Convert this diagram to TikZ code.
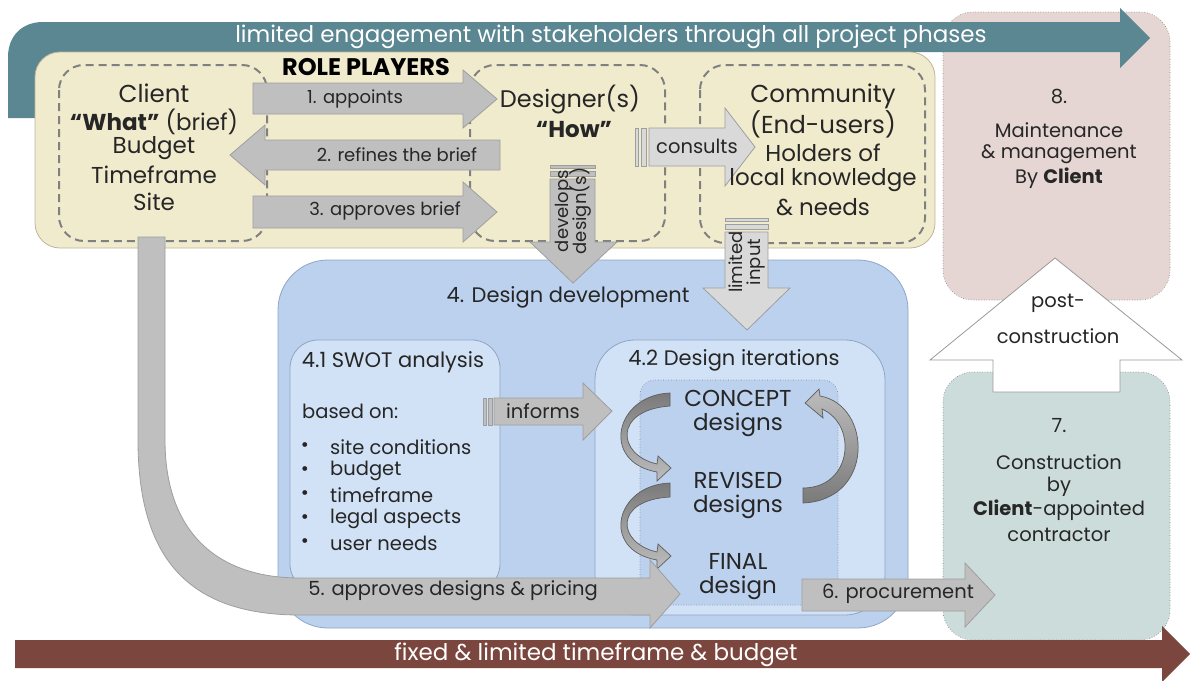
\documentclass[tikz,border=0pt]{standalone}
\usepackage{fontspec}
\setmainfont{Poppins}
\usetikzlibrary{calc}
\definecolor{tealc}{HTML}{5B8792}
\definecolor{brownc}{HTML}{7B463E}
\definecolor{yel}{HTML}{F1EBCD}
\definecolor{yeledge}{HTML}{BDB59A}
\definecolor{dashc}{HTML}{808080}
\definecolor{agray}{HTML}{BFBFBF}
\definecolor{aedge}{HTML}{9E9E9E}
\definecolor{alight}{HTML}{D9D9D9}
\definecolor{blue1}{HTML}{BCD1EE}
\definecolor{blueedge}{HTML}{8EA5C3}
\definecolor{blue2}{HTML}{D2E2F6}
\definecolor{pinkc}{HTML}{E6D6D3}
\definecolor{greenc}{HTML}{CCDCDA}
\definecolor{txt}{HTML}{262626}
\definecolor{curvdark}{HTML}{7A7A7A}
\definecolor{curvlight}{HTML}{BDBDBD}
\definecolor{curvedge}{HTML}{5E5E5E}
\tikzset{
  dbox/.style={draw=dashc, line width=2pt, dash pattern=on 8pt off 5pt, rounded corners=25pt},
  garrow/.style={fill=agray, draw=aedge, line width=0.8pt},
  larrow/.style={fill=alight, draw=aedge, line width=0.8pt},
  carrow/.style={draw=curvedge, line width=0.7pt},
  ttl/.style={font=\fontsize{24.5}{30}\selectfont, text=txt, inner sep=0pt, align=center},
  big/.style={font=\fontsize{23}{28}\selectfont, text=txt, inner sep=0pt, align=center},
  mid/.style={font=\fontsize{21}{25}\selectfont, text=txt, inner sep=0pt, align=center},
  lbl/.style={font=\fontsize{19.5}{23}\selectfont, text=txt, inner sep=0pt, align=center},
  rlbl/.style={font=\fontsize{18}{22}\selectfont, text=txt, inner sep=0pt, align=center},
  wlbl/.style={font=\fontsize{23}{27}\selectfont, text=white, inner sep=0pt},
  hdr/.style={font=\fontsize{24}{28}\selectfont\bfseries, text=black, inner sep=0pt},
}
\begin{document}
\begin{tikzpicture}[x=1pt,y=-1pt]
\useasboundingbox (0,0) rectangle (1199,680);
% right panels
\draw[fill=pinkc, draw=gray, dotted, line width=0.6pt, rounded corners=30pt] (943,12) rectangle (1170,300);
\draw[fill=greenc, draw=gray, dotted, line width=0.6pt, rounded corners=30pt] (943,372) rectangle (1170,640);
\draw[fill=white, draw=gray!80, line width=0.8pt] (993,392) -- (993,360) -- (930,360) -- (1055,258) -- (1182,360) -- (1120,360) -- (1120,392) -- cycle;
% teal arrow
\fill[tealc] (8,118) -- (8,57) .. controls (8,36) and (22,22) .. (43,22) -- (1120,22) -- (1120,8) -- (1150,38) -- (1120,68) -- (1120,52) -- (60,52) -- (60,118) -- cycle;
% yellow panel
\draw[fill=yel, draw=yeledge, line width=0.8pt, rounded corners=25pt] (35,52) rectangle (935,248);
\draw[dbox] (59,65) rectangle (267,241);
\draw[dbox] (470,65) rectangle (665,241);
\draw[dbox] (700,65) rectangle (925,243);
% role arrows
\draw[garrow] (253,83) -- (463,83) -- (463,70) -- (497,99) -- (463,128) -- (463,114) -- (253,114) -- cycle;
\draw[garrow] (500,140) -- (265,140) -- (265,125) -- (230,155) -- (265,185) -- (265,170) -- (500,170) -- cycle;
\draw[garrow] (253,196) -- (463,196) -- (463,182) -- (497,212) -- (463,242) -- (463,228) -- (253,228) -- cycle;
% consults
\draw[larrow] (635,128) rectangle (638,166);
\draw[larrow] (641,128) rectangle (646,166);
\draw[larrow] (649,128) -- (725,128) -- (725,108) -- (755,147) -- (725,186) -- (725,166) -- (649,166) -- cycle;
% blue panels
\draw[fill=blue1, draw=blueedge, line width=0.8pt, rounded corners=50pt] (278,260) rectangle (908,628);
\draw[fill=blue2, draw=blueedge, line width=0.8pt, rounded corners=28pt] (290,340) rectangle (500,592);
\draw[fill=blue2, draw=blueedge, line width=0.8pt, rounded corners=40pt] (595,340) rectangle (885,615);
\draw[fill=blue1, draw=gray, dotted, line width=0.6pt, rounded corners=15pt] (640,380) rectangle (838,605);
% develops
\draw[garrow] (550,165) rectangle (595,168);
\draw[garrow] (550,171) rectangle (595,176);
\draw[garrow] (550,179) -- (595,179) -- (595,242) -- (617,242) -- (573,283) -- (530,242) -- (550,242) -- cycle;
% limited input
\draw[larrow] (725,218) rectangle (768,221);
\draw[larrow] (725,224) rectangle (768,229);
\draw[larrow] (725,232) -- (768,232) -- (768,288) -- (790,288) -- (747,330) -- (703,288) -- (725,288) -- cycle;
% informs
\draw[garrow] (483,398) rectangle (486,425);
\draw[garrow] (488,398) rectangle (492,425);
\draw[garrow] (494,398) -- (583,398) -- (583,383) -- (612,411) -- (583,440) -- (583,425) -- (494,425) -- cycle;
% curved arrows
\draw[carrow, top color=curvdark, bottom color=curvlight] (670,393) .. controls (615,395) and (600,462) .. (657,472) -- (657,481) -- (671,468) -- (658,456) -- (657,464) .. controls (617,455) and (613,410) .. (670,406) -- cycle;
\draw[carrow, top color=curvdark, bottom color=curvlight] (670,483) .. controls (615,485) and (600,550) .. (657,560) -- (657,569) -- (671,556) -- (658,544) -- (657,552) .. controls (617,543) and (613,500) .. (670,497) -- cycle;
\draw[carrow, top color=curvlight, bottom color=curvdark] (803,503) .. controls (875,500) and (872,405) .. (820,396) -- (819,389) -- (805,403) -- (823,418) -- (822,409) .. controls (858,425) and (852,488) .. (803,488) -- cycle;
% 5. approves band
\draw[garrow] (138,237) -- (138,440) .. controls (138,560) and (190,615) .. (300,615) -- (650,615) -- (650,628) -- (680,594) -- (650,560) -- (650,578) -- (300,578) .. controls (215,578) and (165,530) .. (165,440) -- (165,237) -- cycle;
% 6. procurement
\draw[garrow] (802,579) -- (965,579) -- (965,563) -- (995,595) -- (965,627) -- (965,611) -- (802,611) -- cycle;
% brown arrow
\fill[brownc] (15,640) -- (1162,640) -- (1162,626) -- (1190,654) -- (1162,682) -- (1162,668) -- (15,668) -- cycle;

% texts
\node[wlbl] (t1) at (611,37) {limited engagement with stakeholders through all project phases};
\node[wlbl] (t2) at (596,655) {fixed \& limited timeframe \& budget};
\node[hdr] (rp) at (366,67) {ROLE PLAYERS};
\node[ttl] (cl) at (154,93) {Client};
\node[big] (cl2) at (154,122) {\textbf{“What”} (brief)};
\node[big] (cl3) at (154,148) {Budget};
\node[big] (cl4) at (154,175) {Timeframe};
\node[big] (cl5) at (154,202) {Site};
\node[big, font=\fontsize{24}{28}\selectfont] (ds) at (570,100) {Designer(s)};
\node[big] (ds2) at (574,130) {\textbf{“How”}};
\node[ttl] (cm) at (823,96) {Community};
\node[ttl] (cm2) at (823,124) {(End-users)};
\node[big] (cm3) at (823,153) {Holders of};
\node[big] (cm4) at (823,180) {local knowledge};
\node[big] (cm5) at (823,207) {\& needs};
\node[rlbl] (a1) at (355,99) {1. appoints};
\node[rlbl] (a2) at (397,155) {2. refines the brief};
\node[rlbl] (a3) at (385,211) {3. approves brief};
\node[lbl] (a4) at (697,146) {consults};
\node[rlbl, rotate=90] (a5) at (573,211) {develops\\[-4pt]design(s)};
\node[rlbl, rotate=90] (a6) at (747,262) {limited\\[-4pt]input};
\node[lbl] (a7) at (543,411) {informs};
\node[mid] (dd) at (568,297) {4. Design development};
\node[mid] (sw) at (393,362) {4.1 SWOT analysis};
\node[lbl, anchor=west] (bo) at (302,411) {based on:};
\foreach \y/\t [count=\i] in {447/site conditions,471/budget,495/timeframe,519/legal aspects,543/user needs}{
  \node[lbl] (bu\i) at (305,\y) {•};
  \node[lbl, anchor=west] (bt\i) at (330,\y) {\t};
}
\node[mid] (di) at (734,360) {4.2 Design iterations};
\node[big] (c1) at (738,398) {CONCEPT};
\node[big] (c2) at (738,425) {designs};
\node[big] (r1) at (738,480) {REVISED};
\node[big] (r2) at (738,507) {designs};
\node[big] (f1) at (738,561) {FINAL};
\node[big] (f2) at (738,588) {design};
\node[lbl] (a8) at (453,591) {5. approves designs \& pricing};
\node[lbl] (a9) at (898,594) {6. procurement};
\node[lbl] (m1) at (1059,97) {8.};
\node[lbl] (m2) at (1059,130) {Maintenance};
\node[lbl] (m3) at (1059,154) {\& management};
\node[lbl] (m4) at (1059,178) {By \textbf{Client}};
\node[lbl] (p1) at (1058,303) {post-};
\node[lbl] (p2) at (1058,336) {construction};
\node[lbl] (k1) at (1059,426) {7.};
\node[lbl] (k2) at (1059,462) {Construction};
\node[lbl] (k3) at (1059,487) {by};
\node[lbl] (k4) at (1059,510) {\textbf{Client}-appointed};
\node[lbl] (k5) at (1059,535) {contractor};
\end{tikzpicture}
\end{document}
